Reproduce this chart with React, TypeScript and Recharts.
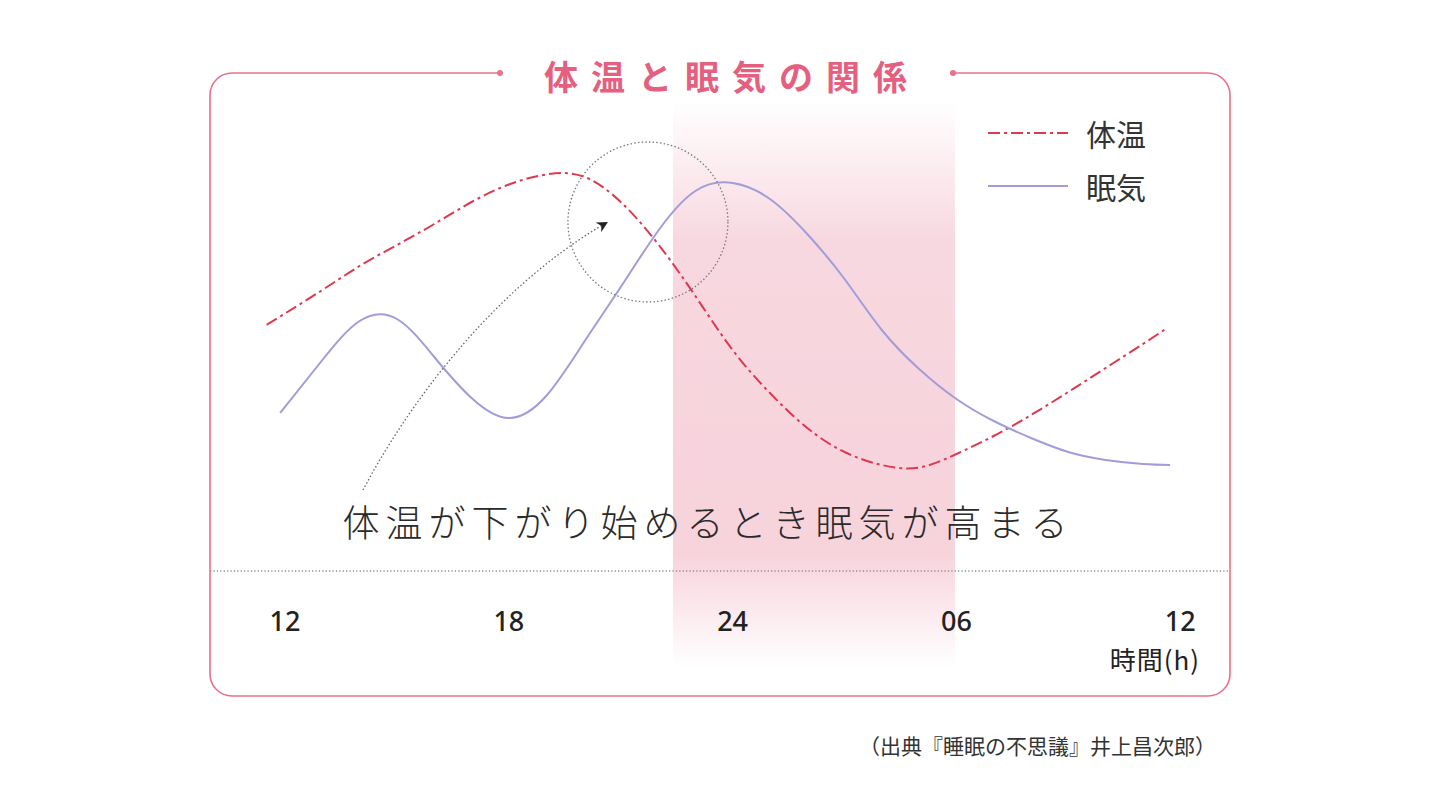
import React from 'react';
import {
  LineChart,
  Line,
  XAxis,
  YAxis,
  ReferenceArea,
  ReferenceLine,
  ReferenceDot,
  Legend,
} from 'recharts';

// 時刻（時、12 = 正午、36 = 翌日正午）
const tempHours = [11.5, 13, 14, 15, 16, 17, 18, 19, 20, 21, 22, 23, 24, 25, 26, 27, 28, 29, 30, 31, 32, 33, 34, 35, 35.65];
const tempLevel = [49.2, 56.2, 61.0, 65.2, 69.4, 73.8, 77.3, 79.3, 78.9, 73.8, 65.4, 55.0, 44.2, 35.6, 28.6, 23.8, 21.2, 20.7, 23.4, 27.0, 31.2, 35.8, 40.6, 45.4, 48.6];

const sleepHours = [11.87, 13, 14, 15, 16, 17, 18, 19, 20, 21, 22, 23, 24, 25, 26, 27, 28, 29, 30, 31, 32, 33, 34, 35, 35.73];
const sleepLevel = [31.6, 42.2, 50.0, 50.4, 42.8, 34.6, 30.6, 35.0, 45.6, 56.8, 68.0, 76.0, 77.6, 74.4, 67.4, 58.4, 48.2, 40.4, 34.4, 30.0, 26.6, 23.8, 22.2, 21.4, 21.2];

const hourTicks = [12, 18, 24, 30, 36];
const hourLabels = ['12', '18', '24', '06', '12'];

const seriesNames = ['体温', '眠気'];

// 睡眠帯（ピンクの帯）
const nightStart = 22.4;
const nightEnd = 29.96;

const tempData = tempHours.map((h, i) => ({ h, v: tempLevel[i] }));
const sleepData = sleepHours.map((h, i) => ({ h, v: sleepLevel[i] }));

const TEMP_COLOR = '#e0384f';
const SLEEP_COLOR = '#a09dd8';
const PINK = '#e8718c';
const CJK = '"Noto Sans CJK JP", "Noto Sans", sans-serif';

const HourTick = ({ x, y, payload }: any) => {
  const idx = hourTicks.indexOf(payload.value);
  return (
    <text
      x={x}
      y={y + 49}
      textAnchor="middle"
      dominantBaseline="central"
      fontFamily='"Noto Sans", sans-serif'
      fontWeight={500}
      fontSize={27}
      fill="#222"
    >
      {hourLabels[idx]}
    </text>
  );
};

const renderLegend = () => (
  <svg width={220} height={110} style={{ overflow: 'visible' }}>
    <line x1={3} y1={28} x2={83} y2={28} stroke={TEMP_COLOR} strokeWidth={2} strokeDasharray="12 4 3 4" />
    <text x={101} y={28} dominantBaseline="central" fontFamily={CJK} fontSize={30} fill="#333">
      {seriesNames[0]}
    </text>
    <line x1={3} y1={81} x2={83} y2={81} stroke={SLEEP_COLOR} strokeWidth={2} />
    <text x={101} y={81} dominantBaseline="central" fontFamily={CJK} fontSize={30} fill="#333">
      {seriesNames[1]}
    </text>
  </svg>
);

// 矢印（点線の曲線）、先端を基準に描く
const ArrowShape = ({ cx, cy }: any) => (
  <path
    d={`M${cx - 245},${cy + 268} C${cx - 203},${cy + 188} ${cx - 118},${cy + 68} ${cx - 2},${cy + 1}`}
    fill="none"
    stroke="#666"
    strokeWidth={1.3}
    strokeDasharray="1.5 2.2"
    markerEnd="url(#arrowHead)"
  />
);

export default function App() {
  return (
    <div style={{ position: 'absolute', left: 0, top: 0, width: 1440, height: 810, background: '#fff' }}>
      <div style={{ position: 'absolute', left: 0, top: 0 }}>
        <LineChart
          width={1440}
          height={810}
          margin={{ top: 71, right: 259.8, left: 266.4, bottom: 179 }}
        >
          <defs>
            <linearGradient id="nightBand" x1="0" y1="0" x2="0" y2="1">
              <stop offset="0%" stopColor="#f7d3dc" stopOpacity={0} />
              <stop offset="25%" stopColor="#f7d3dc" stopOpacity={0.9} />
              <stop offset="80%" stopColor="#f7d3dc" stopOpacity={1} />
              <stop offset="100%" stopColor="#f7d3dc" stopOpacity={0} />
            </linearGradient>
            <marker
              id="arrowHead"
              viewBox="0 0 10 10"
              refX="8"
              refY="5"
              markerWidth="11"
              markerHeight="11"
              markerUnits="userSpaceOnUse"
              orient="auto"
            >
              <path d="M0,0 L10,5 L0,10 L3,5 z" fill="#222" />
            </marker>
          </defs>
          <XAxis
            type="number"
            dataKey="h"
            domain={[11.5, 36]}
            ticks={hourTicks}
            interval={0}
            axisLine={false}
            tickLine={false}
            tickSize={0}
            tickMargin={0}
            height={60}
            tick={<HourTick />}
            allowDataOverflow
          />
          <YAxis type="number" domain={[0, 100]} hide allowDataOverflow />
          <ReferenceArea
            x1={nightStart}
            x2={nightEnd}
            y1={-19.2}
            y2={94.2}
            ifOverflow="visible"
            fill="url(#nightBand)"
            fillOpacity={1}
            stroke="none"
          />
          <ReferenceLine
            segment={[{ x: 9.99, y: 0 }, { x: 37.33, y: 0 }]}
            ifOverflow="visible"
            stroke="#8a8a8a"
            strokeWidth={1.4}
            strokeDasharray="1.2 2.2"
          />
          <Line
            data={tempData}
            dataKey="v"
            name={seriesNames[0]}
            type="natural"
            stroke={TEMP_COLOR}
            strokeWidth={2}
            strokeDasharray="12 4 3 4"
            dot={false}
            activeDot={false}
            isAnimationActive={false}
          />
          <Line
            data={sleepData}
            dataKey="v"
            name={seriesNames[1]}
            type="natural"
            stroke={SLEEP_COLOR}
            strokeWidth={2}
            dot={false}
            activeDot={false}
            isAnimationActive={false}
          />
          <ReferenceDot
            x={21.73}
            y={69.8}
            r={80}
            fill="none"
            stroke="#7a7a7a"
            strokeWidth={1.3}
            strokeDasharray="1.5 2.2"
            ifOverflow="visible"
          />
          <ReferenceDot x={20.66} y={69.8} r={1} ifOverflow="visible" shape={<ArrowShape />} />
          <Legend
            layout="horizontal"
            align="center"
            verticalAlign="middle"
            content={renderLegend}
            wrapperStyle={{ left: 985, top: 105, width: 220, height: 110 }}
          />
        </LineChart>
      </div>
      <svg
        width={1440}
        height={810}
        style={{ position: 'absolute', left: 0, top: 0, pointerEvents: 'none' }}
      >
        <path
          d="M500,73 H232 A22,22 0 0 0 210,95 V674 A22,22 0 0 0 232,696 H1208 A22,22 0 0 0 1230,674 V95 A22,22 0 0 0 1208,73 H953"
          fill="none"
          stroke={PINK}
          strokeWidth={1.6}
        />
        <circle cx={500} cy={73} r={3} fill={PINK} />
        <circle cx={953} cy={73} r={3} fill={PINK} />
        <text
          x={732}
          y={75}
          textAnchor="middle"
          dominantBaseline="central"
          fontFamily={CJK}
          fontWeight={700}
          fontSize={34}
          letterSpacing={13}
          fill="#e5607f"
        >
          体温と眠気の関係
        </text>
        <text
          x={708}
          y={521}
          textAnchor="middle"
          dominantBaseline="central"
          fontFamily={CJK}
          fontWeight={300}
          fontSize={37}
          letterSpacing={6}
          fill="#2a2a2a"
        >
          体温が下がり始めるとき眠気が高まる
        </text>
        <text
          x={1200}
          y={658}
          textAnchor="end"
          dominantBaseline="central"
          fontFamily={CJK}
          fontSize={26}
          letterSpacing={1}
          fill="#222"
        >
          時間(h)
        </text>
        <text
          x={1216}
          y={745}
          textAnchor="end"
          dominantBaseline="central"
          fontFamily={CJK}
          fontSize={21}
          fill="#333"
        >
          （出典『睡眠の不思議』井上昌次郎）
        </text>
      </svg>
    </div>
  );
}
